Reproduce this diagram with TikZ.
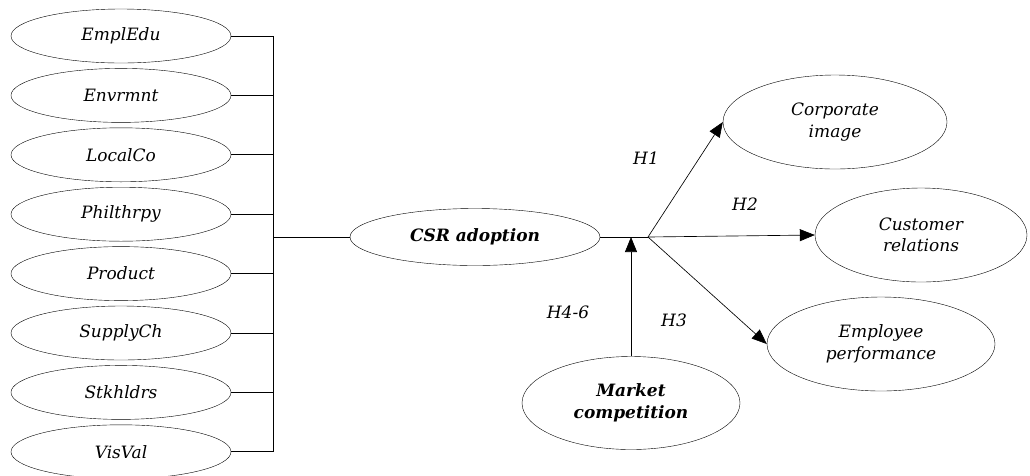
\documentclass[tikz,border=0pt]{standalone}
\usepackage{fontspec}
\setmainfont{DejaVu Serif}
\usepackage{tikz}
\usetikzlibrary{positioning, shapes.geometric, arrows.meta}
\tikzset{
	construct/.style ={
		draw,
		ellipse,
		align = center,
		inner sep=1pt,
		font={\fontsize{17}{21.5}\selectfont\itshape}
	},
	hyp/.style ={
		inner sep=0pt,
		font={\fontsize{17}{21.5}\selectfont\itshape}
	},
	link/.style ={
		line width=0.65pt
	},
	path/.style ={
		line width=0.65pt,
		-{Triangle[length=15pt,width=12pt]}
	}
}

\begin{document}
\begin{tikzpicture}[x=1pt, y=-1pt,
	item/.style = {construct, minimum width=220pt, minimum height=54pt},
	outcome/.style = {construct, minimum width=224pt, minimum height=94pt}
	]
	\useasboundingbox (0,0) rectangle (1030,475);
	% CSR dimensions
	\node[item] (emplEdu) at (121,36) {EmplEdu};
	\node[item, below = 5pt of emplEdu] (envrmnt) {Envrmnt};
	\node[item, below = 5pt of envrmnt] (localCo) {LocalCo};
	\node[item, below = 5pt of localCo] (philthrpy) {Philthrpy};
	\node[item, below = 5pt of philthrpy] (product) {Product};
	\node[item, below = 5pt of product] (supplyCh) {SupplyCh};
	\node[item, below = 5pt of supplyCh] (stkhldrs) {Stkhldrs};
	\node[item, below = 5pt of stkhldrs] (visVal) {VisVal};
	
	\node[construct, minimum width=250pt, minimum height=57pt, font={\fontsize{17}{21.5}\selectfont\bfseries\itshape}] (csr) at (475,237) {CSR adoption};
	\node[construct, minimum width=218pt, minimum height=93pt, font={\fontsize{17}{21.5}\selectfont\bfseries\itshape}] (market) at (631,403) {Market\\competition};
	
	% outcomes
	\node[outcome] (corporate) at (835,122) {Corporate\\image};
	\node[outcome, minimum width=212pt] (customer) at (921,235) {Customer\\relations};
	\node[outcome, minimum width=228pt] (employee) at (881,344) {Employee\\performance};
	
	\coordinate (bus) at (273,237);
	\coordinate (fork) at (648,237);
	
	\foreach \n in {emplEdu, envrmnt, localCo, philthrpy, product, supplyCh, stkhldrs, visVal}
		\draw[link] (\n.east) -- (\n.east -| bus);
	\draw[link] (emplEdu.east -| bus) to (visVal.east -| bus);
	\draw[link] (bus) to (csr.west);
	\draw[link] (csr.east) to (fork);
	
	\draw[path] (fork) to (corporate.west);
	\draw[path] (fork) to (customer.west);
	\draw[path] (fork) to (employee.west);
	\draw[path] (market.north) to (market.north |- fork);
	
	\node[hyp] (h1) at (646,158) {H1};
	\node[hyp] (h2) at (745,204) {H2};
	\node[hyp] (h3) at (674,320) {H3};
	\node[hyp] (h46) at (568,312) {H4-6};
	
\end{tikzpicture}
\end{document}
